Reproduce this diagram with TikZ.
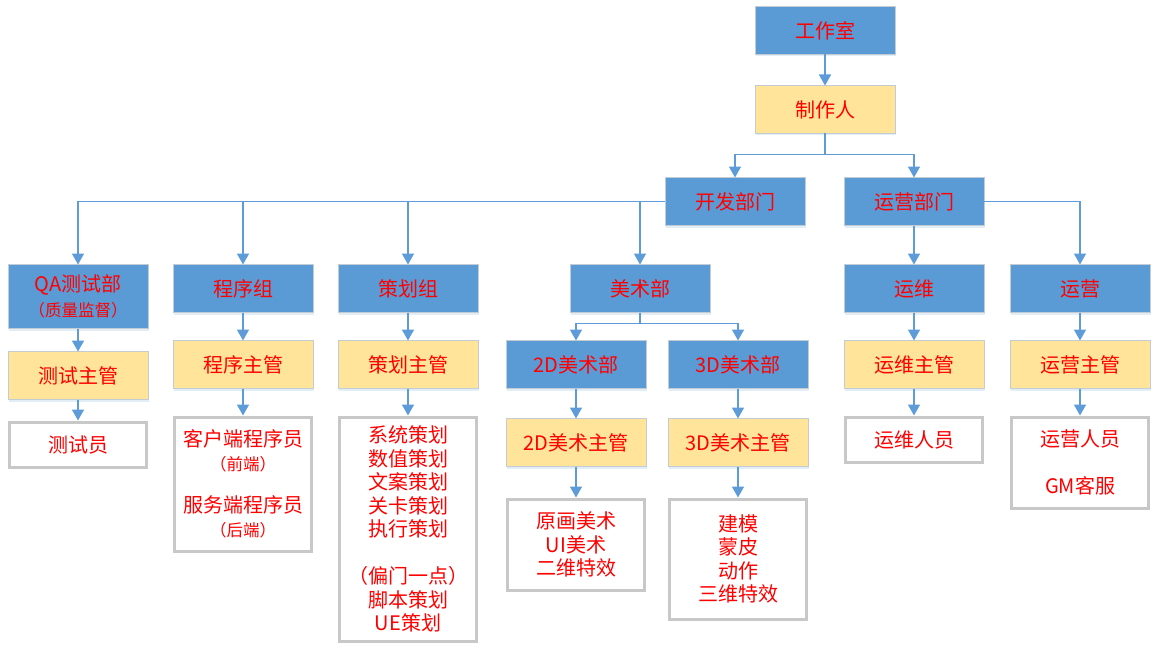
\documentclass[tikz,border=0pt]{standalone}
\usepackage{fontspec}
\setmainfont{Noto Sans CJK SC}
\usepackage{xcolor}
\usepackage{tikz}
\usetikzlibrary{positioning,arrows.meta,shadows}
\definecolor{boxblue}{HTML}{5B9BD5}
\definecolor{boxyellow}{HTML}{FFE49A}
\definecolor{linkblue}{HTML}{5D9CD8}
\definecolor{edgegray}{HTML}{C3CBD3}
\definecolor{staffgray}{HTML}{C8C8C8}
\newcommand{\smalltxt}{\fontsize{16.5}{20}\selectfont}

\begin{document}
\begin{tikzpicture}[x=1pt, y=1pt, every node/.style={font=\fontsize{20}{23.5}\selectfont, text=red}]
    \tikzstyle{dept} = [rectangle, minimum width=140pt, minimum height=48pt, align=center, outer sep=0pt, draw=edgegray, line width=0.8pt, fill=boxblue, drop shadow={opacity=0.18, fill=boxblue, shadow xshift=1pt, shadow yshift=-2pt}]
    \tikzstyle{lead} = [rectangle, minimum width=140pt, minimum height=48pt, align=center, outer sep=0pt, draw=edgegray, line width=0.8pt, fill=boxyellow, drop shadow={opacity=0.18, fill=boxblue, shadow xshift=1pt, shadow yshift=-2pt}]
    \tikzstyle{staff} = [rectangle, minimum width=137pt, minimum height=45pt, align=center, draw=staffgray, line width=3pt, fill=white, drop shadow={opacity=0.15, fill=boxblue, shadow xshift=1pt, shadow yshift=-2pt}]
    \tikzstyle{link} = [draw=linkblue, line width=1.6pt, -{Triangle[width=12pt, length=11pt]}]
    \useasboundingbox (0,0) rectangle (1156,-650);

    % Top
    \node [dept] (studio) at (825,-30.5) {工作室};
    \node [lead, below=31pt of studio] (producer) {制作人};
    \node [dept, below=44pt of producer, xshift=-90pt] (dev) {开发部门};
    \node [dept, right=39pt of dev] (ops) {运营部门};

    % Departments
    \node [dept, below=39pt of dev, xshift=-95pt] (art) {美术部};
    \node [dept, left=92pt of art] (plan) {策划组};
    \node [dept, left=25pt of plan] (prog) {程序组};
    \node [dept, minimum height=64pt, left=25pt of prog.north west, anchor=north east] (qa) {QA测试部\\[1pt]{\smalltxt （质量监督）}};
    \node [dept, below=39pt of ops] (maint) {运维};
    \node [dept, right=26pt of maint] (operate) {运营};

    % Leads
    \node [lead, below=23pt of qa] (qalead) {测试主管};
    \node [lead, below=28pt of prog] (proglead) {程序主管};
    \node [lead, below=28pt of plan] (planlead) {策划主管};
    \node [dept, below=28pt of art, xshift=-64pt] (art2d) {2D美术部};
    \node [dept, right=22pt of art2d] (art3d) {3D美术部};
    \node [lead, below=28pt of maint] (maintlead) {运维主管};
    \node [lead, below=28pt of operate] (operlead) {运营主管};
    \node [lead, below=30pt of art2d] (lead2d) {2D美术主管};
    \node [lead, below=30pt of art3d] (lead3d) {3D美术主管};

    % Staff
    \node [staff, below=21pt of qalead] (tester) {测试员};
    \node [staff, minimum height=134pt, below=27pt of proglead] (progstaff) {客户端程序员\\{\smalltxt （前端）}\\[19pt]服务端程序员\\{\smalltxt （后端）}};
    \node [staff, minimum height=224pt, below=27pt of planlead] (planstaff) {系统策划\\数值策划\\文案策划\\关卡策划\\执行策划\\[23.5pt]（偏门一点）\\脚本策划\\UE策划};
    \node [staff, minimum height=91pt, below=31pt of lead2d] (staff2d) {原画美术\\UI美术\\二维特效};
    \node [staff, minimum height=120pt, below=31pt of lead3d] (staff3d) {建模\\蒙皮\\动作\\三维特效};
    \node [staff, below=27pt of maintlead] (maintstaff) {运维人员};
    \node [staff, minimum height=91pt, below=27pt of operlead] (operstaff) {运营人员\\[23.5pt]GM客服};

    % Connections
    \draw [link] (studio) -- (producer);
    \draw [link] (producer.south) -- ++(0,-21) -| (dev.north);
    \draw [link] (producer.south) -- ++(0,-21) -| (ops.north);

    \draw [link] (dev.west) -| (qa.north);
    \draw [link] (dev.west) -| (prog.north);
    \draw [link] (dev.west) -| (plan.north);
    \draw [link] (dev.west) -| (art.north);
    \draw [link] (ops) -- (maint);
    \draw [link] (ops.east) -| (operate.north);

    \draw [link] (art.south) -- ++(0,-11) -| (art2d.north);
    \draw [link] (art.south) -- ++(0,-11) -| (art3d.north);

    \draw [link] (qa) -- (qalead);
    \draw [link] (qalead) -- (tester);
    \draw [link] (prog) -- (proglead);
    \draw [link] (proglead) -- (progstaff);
    \draw [link] (plan) -- (planlead);
    \draw [link] (planlead) -- (planstaff);
    \draw [link] (art2d) -- (lead2d);
    \draw [link] (lead2d) -- (staff2d);
    \draw [link] (art3d) -- (lead3d);
    \draw [link] (lead3d) -- (staff3d);
    \draw [link] (maint) -- (maintlead);
    \draw [link] (maintlead) -- (maintstaff);
    \draw [link] (operate) -- (operlead);
    \draw [link] (operlead) -- (operstaff);
\end{tikzpicture}
\end{document}
